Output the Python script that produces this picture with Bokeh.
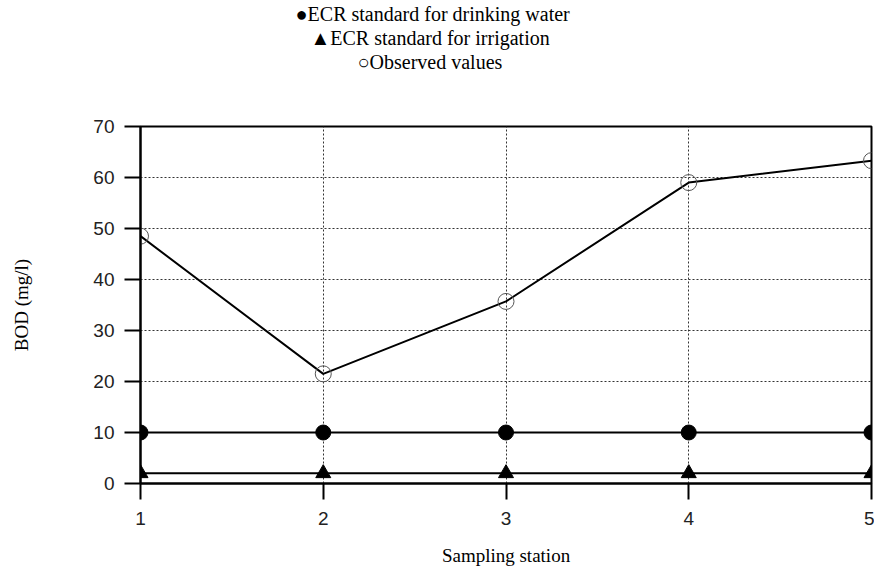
from bokeh.plotting import figure
from bokeh.models import Title, FixedTicker, Range1d
from bokeh.embed import file_html
from bokeh.resources import INLINE

stations = [1, 2, 3, 4, 5]
observed = [48.5, 21.5, 35.7, 59.0, 63.3]
drinking_std = [10, 10, 10, 10, 10]
irrigation_std = [2, 2, 2, 2, 2]
x_ticks = [1, 2, 3, 4, 5]
y_ticks = [0, 10, 20, 30, 40, 50, 60, 70]
legend_lines = ["\u25cfECR standard for drinking water",
                "\u25b2ECR standard for irrigation",
                "\u25cbObserved values"]

p = figure(width=874, height=579, output_backend="svg", toolbar_location=None,
           x_range=Range1d(1, 5), y_range=Range1d(0, 70),
           min_border_left=140, min_border_right=3, min_border_top=125, min_border_bottom=96)
p.background_fill_color = "white"
p.border_fill_color = "white"
p.outline_line_color = "black"
p.outline_line_width = 2

# grids
for g in (p.xgrid, p.ygrid):
    g.grid_line_color = "#333333"
    g.grid_line_dash = "2 2"
    g.grid_line_width = 1
p.xgrid.ticker = FixedTicker(ticks=x_ticks)
p.ygrid.ticker = FixedTicker(ticks=y_ticks)

# axes
p.xaxis.ticker = FixedTicker(ticks=x_ticks)
p.yaxis.ticker = FixedTicker(ticks=y_ticks)
for ax in (p.xaxis, p.yaxis):
    ax.axis_line_color = "black"
    ax.axis_line_width = 2
    ax.major_tick_line_color = "black"
    ax.major_tick_line_width = 2
    ax.major_tick_out = 16
    ax.major_tick_in = 0
    ax.minor_tick_line_color = None
    ax.major_label_text_font = "Liberation Sans"
    ax.major_label_text_font_size = "19px"
    ax.major_label_text_color = "#222222"
    ax.axis_label_text_font = "Liberation Serif"
    ax.axis_label_text_font_size = "19px"
    ax.axis_label_text_font_style = "normal"
    ax.axis_label_text_color = "black"
p.xaxis.axis_label = "Sampling station"
p.yaxis.axis_label = "BOD (mg/l)"
p.xaxis.major_label_standoff = 12
p.xaxis.axis_label_standoff = 17
p.yaxis.major_label_standoff = 10
p.yaxis.axis_label_standoff = 58

# series
p.line(stations, irrigation_std, line_color="black", line_width=2)
p.scatter(stations, irrigation_std, marker="triangle", size=15, fill_color="black", line_color="black")
p.line(stations, drinking_std, line_color="black", line_width=2)
p.scatter(stations, drinking_std, marker="circle", size=15, fill_color="black", line_color="black")
p.line(stations, observed, line_color="black", line_width=2)
p.scatter(stations, observed, marker="circle", size=16, fill_color=None, line_color="#555555", line_width=1)

# spacer between frame and the legend-like lines
p.add_layout(Title(text=" ", standoff=30, text_font="Liberation Serif", text_font_size="20px"), "above")

# legend-like title lines (stacked titles; first added sits nearest the frame)
offsets = {0: 155, 1: 170, 2: 217}
for i in (2, 1, 0):
    p.add_layout(Title(text=legend_lines[i], align="left", offset=offsets[i], standoff=0,
                       text_font="Liberation Serif", text_font_size="20px",
                       text_font_style="normal", text_color="black"), "above")

open("out.html", "w").write(file_html(p, INLINE))
